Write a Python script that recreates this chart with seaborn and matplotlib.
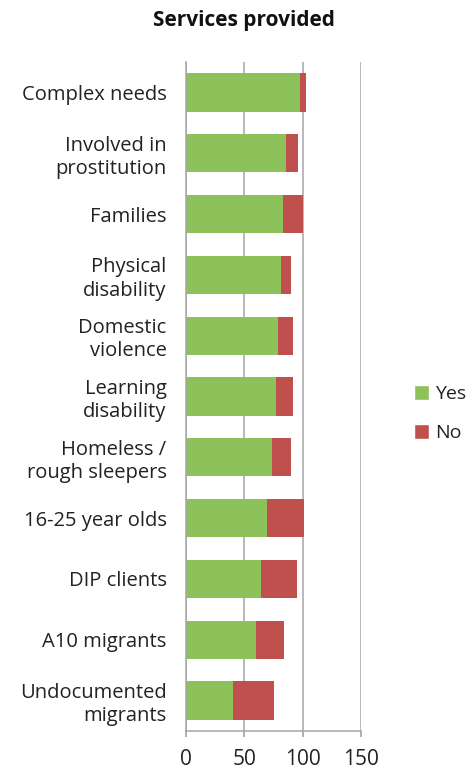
import matplotlib
matplotlib.use("Agg")
import matplotlib.pyplot as plt
from matplotlib.patches import Patch
import seaborn as sns
import pandas as pd

categories = [
    "Complex needs",
    "Involved in\nprostitution",
    "Families",
    "Physical\ndisability",
    "Domestic\nviolence",
    "Learning\ndisability",
    "Homeless /\nrough sleepers",
    "16-25 year olds",
    "DIP clients",
    "A10 migrants",
    "Undocumented\nmigrants",
]
yes_counts = [98, 86, 83, 81, 79, 77, 74, 69, 64, 60, 40]
no_counts = [5, 10, 17, 9, 13, 15, 16, 32, 31, 24, 35]
x_ticks = [0, 50, 100, 150]

GREEN = "#8DC25A"
RED = "#C0504D"

df = pd.DataFrame({"category": categories, "Yes": yes_counts, "No": no_counts})
df["Total"] = df["Yes"] + df["No"]

sns.set_theme(style="white")
plt.rcParams["font.family"] = ["Open Sans", "DejaVu Sans"]

fig = plt.figure(figsize=(4.75, 7.71), dpi=100)
ax = fig.add_axes([0.3916, 0.0519, 0.3684, 0.8677])

# Stacked bars: the total (No on the end) underneath, Yes drawn over it
sns.barplot(data=df, x="Total", y="category", color=RED, width=0.63,
            saturation=1, ax=ax, edgecolor="none")
sns.barplot(data=df, x="Yes", y="category", color=GREEN, width=0.63,
            saturation=1, ax=ax, edgecolor="none")

ax.set_xlim(0, 150)
ax.set_xticks(x_ticks)
ax.set_xticklabels([str(t) for t in x_ticks], fontsize=15, color="#222222")
ax.set_xlabel("")
ax.set_ylabel("")
ax.tick_params(axis="y", length=0, pad=14, labelsize=14.5, labelcolor="#222222")
ax.tick_params(axis="x", length=4, color="#A6A6A6", pad=9, direction="out",
               bottom=True)
for lbl in ax.get_yticklabels():
    lbl.set_linespacing(1.22)

ax.grid(axis="x", color="#A6A6A6", linewidth=1.1)
ax.set_axisbelow(True)
for side in ["top", "right"]:
    ax.spines[side].set_visible(False)
for side in ["left", "bottom"]:
    ax.spines[side].set_color("#A6A6A6")
    ax.spines[side].set_linewidth(1.1)

fig.text(0.513, 0.973, "Services provided", ha="center", va="center",
         fontsize=15, fontweight="bold", color="#111111")

handles = [Patch(facecolor=GREEN, label="Yes"), Patch(facecolor=RED, label="No")]
fig.legend(handles=handles, loc="center left", bbox_to_anchor=(0.855, 0.4637),
           frameon=False, fontsize=14, handlelength=0.8, handleheight=0.8,
           handletextpad=0.3, labelspacing=1.05, labelcolor="#222222",
           borderaxespad=0)

fig.savefig("out.png", dpi=100)
